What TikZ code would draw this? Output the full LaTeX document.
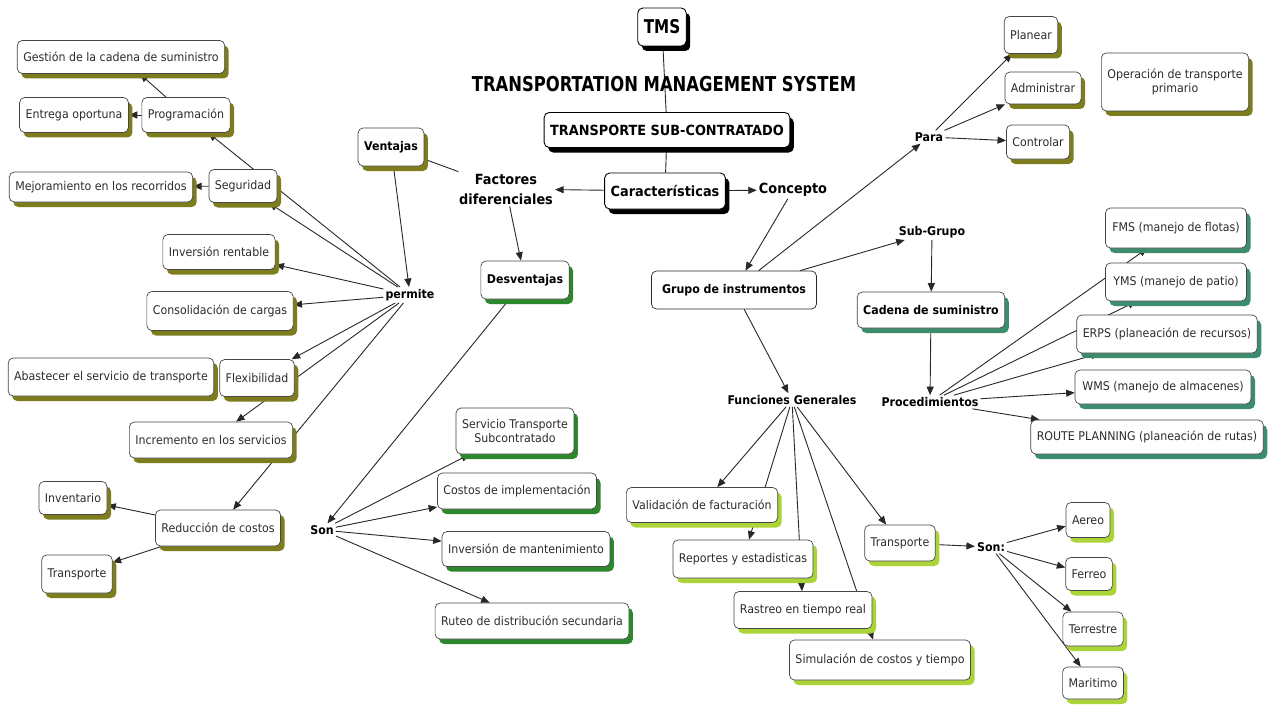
\documentclass[tikz,border=0pt]{standalone}
\usepackage{fontspec}
\setmainfont{DejaVu Sans}[FakeStretch=0.92]
\newfontfamily\headfont{DejaVu Sans}[FakeStretch=0.8]
\usetikzlibrary{arrows.meta,shadows,backgrounds}

\definecolor{ink}{RGB}{40,40,40}
\definecolor{txt}{RGB}{45,45,45}
\definecolor{boxline}{RGB}{70,70,70}
\definecolor{olivesh}{RGB}{125,125,30}
\definecolor{greensh}{RGB}{45,135,45}
\definecolor{limesh}{RGB}{170,212,55}
\definecolor{tealsh}{RGB}{60,140,110}

\tikzset{
  box/.style={rounded corners=5pt, draw=boxline, line width=0.7pt, fill=white,
    inner xsep=6pt, inner ysep=3pt, minimum height=33pt, text=txt,
    font=\fontsize{12}{14.5}\selectfont, align=center},
  olivebox/.style={box, drop shadow={fill=olivesh, opacity=1, shadow xshift=4pt, shadow yshift=-5pt}},
  greenbox/.style={box, drop shadow={fill=greensh, opacity=1, shadow xshift=4pt, shadow yshift=-5pt}},
  limebox/.style={box, drop shadow={fill=limesh, opacity=1, shadow xshift=4pt, shadow yshift=-5pt}},
  tealbox/.style={box, drop shadow={fill=tealsh, opacity=1, shadow xshift=4pt, shadow yshift=-5pt}},
  blackbox/.style={box, draw=black, line width=0.9pt, text=black,
    drop shadow={fill=black, opacity=1, shadow xshift=4pt, shadow yshift=-5pt}},
  strong/.style={text=black, font=\bfseries\fontsize{12}{14.5}\selectfont},
  bigstrong/.style={text=black, font=\bfseries\fontsize{14}{16}\selectfont},
  linkword/.style={inner sep=2pt, text=black, font=\bfseries\fontsize{12}{14.5}\selectfont, align=center},
  biglink/.style={inner sep=2pt, text=black, font=\bfseries\fontsize{14}{20}\selectfont, align=center},
  conn/.style={draw=ink, line width=0.9pt, -{Triangle[length=8.5pt,width=7pt]}},
  tie/.style={draw=ink, line width=0.9pt},
}

\begin{document}
\begin{tikzpicture}[x=1pt,y=-1pt]
\useasboundingbox (0,0) rectangle (1274,706);

% ---- central spine ----
\node[blackbox, strong, font=\bfseries\headfont\fontsize{19}{21}\selectfont, minimum height=38pt, inner xsep=6pt] (tms) at (662,27) {TMS};
\node[text=black, font=\bfseries\headfont\fontsize{20.5}{23}\selectfont] (title) at (664,84) {TRANSPORTATION MANAGEMENT SYSTEM};
\node[blackbox, bigstrong, minimum height=35pt] (sub) at (667,130) {TRANSPORTE SUB-CONTRATADO};
\node[blackbox, bigstrong, minimum height=36pt] (carac) at (665,191) {Características};
\node[biglink] (concepto) at (793,190) {Concepto};
\node[biglink] (factores) at (506,189) {Factores\\diferenciales};

% ---- advantages ----
\node[olivebox, strong, minimum height=38pt] (ventajas) at (391,147) {Ventajas};
\node[linkword] (permite) at (410,295) {permite};
\node[olivebox] (gestion) at (121,57) {Gestión de la cadena de suministro};
\node[olivebox, minimum height=35pt] (entrega) at (74,115) {Entrega oportuna};
\node[olivebox, minimum height=35pt] (programacion) at (186,115) {Programación};
\node[olivebox, minimum height=30pt] (mejora) at (101,187) {Mejoramiento en los recorridos};
\node[olivebox, minimum height=33pt] (seguridad) at (243,186) {Seguridad};
\node[olivebox, minimum height=35pt] (inversion) at (219,252) {Inversión rentable};
\node[olivebox, minimum height=39pt] (consolidacion) at (220,311) {Consolidación de cargas};
\node[olivebox, minimum height=38pt] (abastecer) at (111,377) {Abastecer el servicio de transporte};
\node[olivebox, minimum height=37pt] (flexibilidad) at (257,378) {Flexibilidad};
\node[olivebox, minimum height=36pt] (incremento) at (211,440) {Incremento en los servicios};
\node[olivebox] (inventario) at (73,498) {Inventario};
\node[olivebox, minimum height=36pt] (reduccion) at (218,528) {Reducción de costos};
\node[olivebox, minimum height=38pt] (transporteL) at (77,574) {Transporte};

% ---- disadvantages ----
\node[greenbox, strong, minimum height=38pt] (desventajas) at (525,280) {Desventajas};
\node[linkword] (sonL) at (322,530) {Son};
\node[greenbox, minimum height=46pt] (servicio) at (515,431) {Servicio Transporte\\Subcontratado};
\node[greenbox, minimum height=36pt] (costos) at (517,491) {Costos de implementación};
\node[greenbox, minimum height=35pt] (invmant) at (526,549) {Inversión de mantenimiento};
\node[greenbox, minimum height=36pt] (ruteo) at (532,621) {Ruteo de distribución secundaria};

% ---- instruments ----
\node[box, strong, draw=ink, minimum width=165pt, minimum height=38pt] (grupo) at (734,290) {Grupo de instrumentos};
\node[linkword] (para) at (929,137) {Para};
\node[olivebox, minimum height=37pt] (planear) at (1031,35) {Planear};
\node[olivebox, minimum height=32pt] (administrar) at (1043,88) {Administrar};
\node[olivebox, minimum height=34pt] (controlar) at (1038,142) {Controlar};
\node[olivebox, minimum width=146pt, minimum height=58pt] (operacion) at (1175,82) {Operación de transporte\\primario};

\node[linkword] (subgrupo) at (932,232) {Sub-Grupo};
\node[tealbox, strong, minimum height=36pt] (cadena) at (931,310) {Cadena de suministro};
\node[linkword] (procedimientos) at (930,402) {Procedimientos};
\node[tealbox, minimum width=141pt, minimum height=40pt] (fms) at (1176,228) {FMS (manejo de flotas)};
\node[tealbox, minimum width=141pt, minimum height=38pt] (yms) at (1176,282) {YMS (manejo de patio)};
\node[tealbox, minimum height=38pt] (erps) at (1167,334) {ERPS (planeación de recursos)};
\node[tealbox, minimum width=176pt, minimum height=34pt] (wms) at (1163,387) {WMS (manejo de almacenes)};
\node[tealbox, minimum height=34pt] (route) at (1147,437) {ROUTE PLANNING (planeación de rutas)};

% ---- general functions ----
\node[linkword] (funciones) at (792,400) {Funciones Generales};
\node[limebox, minimum height=35pt] (validacion) at (702,505) {Validación de facturación};
\node[limebox, minimum height=38pt] (reportes) at (743,559) {Reportes y estadisticas};
\node[limebox, minimum height=37pt] (rastreo) at (803,610) {Rastreo en tiempo real};
\node[limebox, minimum height=40pt] (simulacion) at (880,660) {Simulación de costos y tiempo};
\node[limebox, minimum height=36pt] (transporteR) at (900,543) {Transporte};
\node[linkword] (sonR) at (991,547) {Son:};
\node[limebox, minimum height=35pt] (aereo) at (1088,520) {Aereo};
\node[limebox, minimum height=33pt] (ferreo) at (1089,574) {Ferreo};
\node[limebox, minimum height=34pt] (terrestre) at (1093,629) {Terrestre};
\node[limebox, minimum height=32pt] (maritimo) at (1093,683) {Maritimo};

% ---- connectors, drawn underneath the boxes ----
\begin{scope}[on background layer]
  \fill[white] (0,0) rectangle (1274,706);
  \draw[tie] (tms) -- (sub);
  \draw[tie] (sub) -- (carac);
  \draw[conn] (carac) -- (factores);
  \draw[conn] (carac) -- (concepto);
  \draw[tie] (ventajas) -- (factores);
  \draw[conn] (factores) -- (desventajas);
  \draw[conn] (ventajas) -- (permite);

  \draw[conn] (permite) -- (programacion);
  \draw[conn] (permite) -- (seguridad);
  \draw[conn] (permite) -- (inversion);
  \draw[conn] (permite) -- (consolidacion);
  \draw[conn] (permite) -- (flexibilidad);
  \draw[conn] (permite) -- (incremento);
  \draw[conn] (permite) -- (reduccion);
  \draw[conn] (programacion) -- (gestion);
  \draw[conn] (programacion) -- (entrega);
  \draw[conn] (seguridad) -- (mejora);
  \draw[conn] (reduccion) -- (inventario);
  \draw[conn] (reduccion) -- (transporteL);

  \draw[conn] (desventajas) -- (sonL);
  \draw[conn] (sonL) -- (servicio);
  \draw[conn] (sonL) -- (costos);
  \draw[conn] (sonL) -- (invmant);
  \draw[conn] (sonL) -- (ruteo);

  \draw[conn] (concepto) -- (grupo);
  \draw[conn] (grupo) -- (para);
  \draw[conn] (para) -- (planear);
  \draw[conn] (para) -- (administrar);
  \draw[conn] (para) -- (controlar);
  \draw[conn] (grupo) -- (subgrupo);
  \draw[conn] (subgrupo) -- (cadena);
  \draw[conn] (cadena) -- (procedimientos);
  \draw[conn] (procedimientos) -- (fms);
  \draw[conn] (procedimientos) -- (yms);
  \draw[conn] (procedimientos) -- (erps);
  \draw[conn] (procedimientos) -- (wms);
  \draw[conn] (procedimientos) -- (route);

  \draw[conn] (grupo) -- (funciones);
  \draw[conn] (funciones) -- (validacion);
  \draw[conn] (funciones) -- (reportes);
  \draw[conn] (funciones) -- (rastreo);
  \draw[conn] (funciones) -- (simulacion);
  \draw[conn] (funciones) -- (transporteR);
  \draw[conn] (transporteR) -- (sonR);
  \draw[conn] (sonR) -- (aereo);
  \draw[conn] (sonR) -- (ferreo);
  \draw[conn] (sonR) -- (terrestre);
  \draw[conn] (sonR) -- (maritimo);
\end{scope}
\end{tikzpicture}
\end{document}
